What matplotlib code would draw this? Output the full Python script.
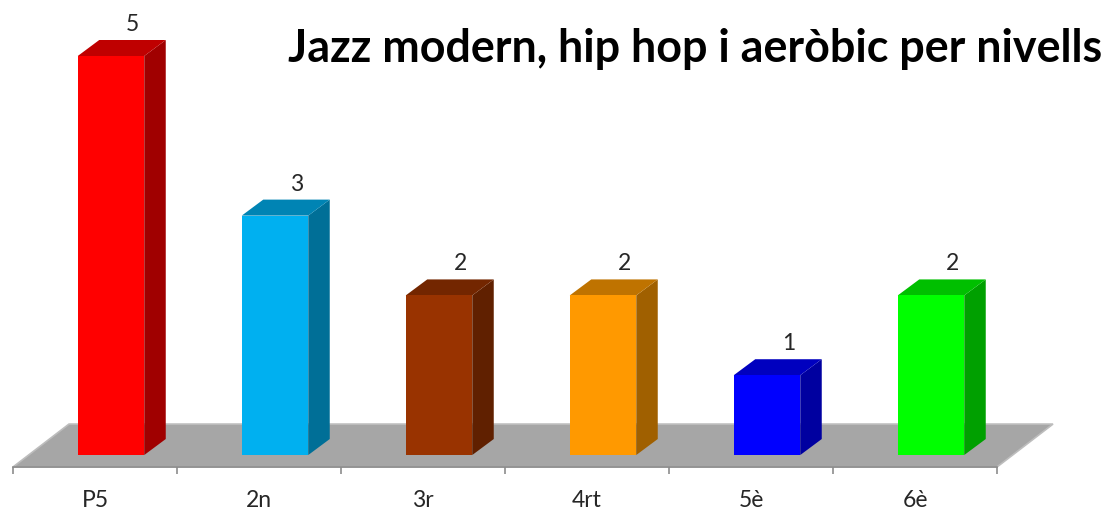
#!/usr/bin/env python3
"""Jazz modern, hip hop i aerobic per nivells - fake 3D column chart"""

import matplotlib
matplotlib.use('Agg')
import matplotlib.pyplot as plt
from matplotlib.patches import Polygon

# Data
levels = ['P5', '2n', '3r', '4rt', '5è', '6è']
counts = [5, 3, 2, 2, 1, 2]
front_colors = ['#FF0000', '#00B0F0', '#993300', '#FF9900', '#0000FF', '#00FF00']
top_colors = ['#BF0000', '#0084B4', '#732600', '#BF7300', '#0000BF', '#00BF00']
side_colors = ['#A00000', '#006F97', '#602000', '#A06000', '#0000A0', '#00A000']

title = 'Jazz modern, hip hop i aeròbic per nivells'

W, H = 1110, 510
plt.rcParams['font.family'] = ['Lato', 'DejaVu Sans']

fig = plt.figure(figsize=(W / 100, H / 100), dpi=100, facecolor='white')
# axes box runs along the floor's front edge
ax = fig.add_axes([13 / W, 1 - 468 / H, 984 / W, 411 / H])
ax.patch.set_visible(False)
ax.set_xlim(-0.5, 5.5)
ax.set_ylim(-0.15, 5)

# depth of the 3D effect in data units
dx, dy = 21.5 / 164, 16 / 79.8
shift = 16 / 164      # bars sit a bit right of the tick centre
width = 66.5 / 164

# Floor
floor_back = 0.388
floor_dx = 56 / 164
ax.add_patch(Polygon([(-0.5, -0.15), (5.5, -0.15), (5.5 + floor_dx, floor_back), (-0.5 + floor_dx, floor_back)],
                     closed=True, facecolor='#A6A6A6', edgecolor='#BDBDBD', linewidth=1.2,
                     clip_on=False, zorder=1))

x_pos = [i + shift for i in range(len(levels))]
bars = ax.bar(x_pos, counts, width=width, color=front_colors, zorder=3)

# Side + top faces and value labels
for bar, value, top_c, side_c in zip(bars, counts, top_colors, side_colors):
    x0 = bar.get_x()
    x1 = x0 + bar.get_width()
    ax.add_patch(Polygon([(x1, 0), (x1 + dx, dy), (x1 + dx, value + dy), (x1, value)],
                         closed=True, facecolor=side_c, edgecolor='none', clip_on=False, zorder=2))
    ax.add_patch(Polygon([(x0, value), (x1, value), (x1 + dx, value + dy), (x0 + dx, value + dy)],
                         closed=True, facecolor=top_c, edgecolor='none', clip_on=False, zorder=2))
    ax.text(x0 + width / 2 + dx, value + dy + 0.125, f'{value}', ha='center', va='baseline',
            fontsize=16.5, color='#262626', clip_on=False)

# Axis
for side in ['top', 'left', 'right']:
    ax.spines[side].set_visible(False)
ax.spines['bottom'].set_color('#8C8C8C')
ax.spines['bottom'].set_linewidth(1.2)
ax.set_yticks([])
ax.set_xticks([i - 0.5 for i in range(len(levels) + 1)])
ax.set_xticklabels([])
ax.tick_params(axis='x', which='major', length=5, width=1.2, color='#8C8C8C')
ax.set_xticks(range(len(levels)), minor=True)
ax.set_xticklabels(levels, minor=True, fontsize=16.5, color='#262626')
ax.tick_params(axis='x', which='minor', length=0, pad=16.2)

fig.text(1102 / W, 1 - 49 / H, title, ha='right', va='center', fontsize=32.3,
         fontweight='bold', color='black')

fig.savefig('out.png', dpi=100, facecolor='white')
plt.close()
